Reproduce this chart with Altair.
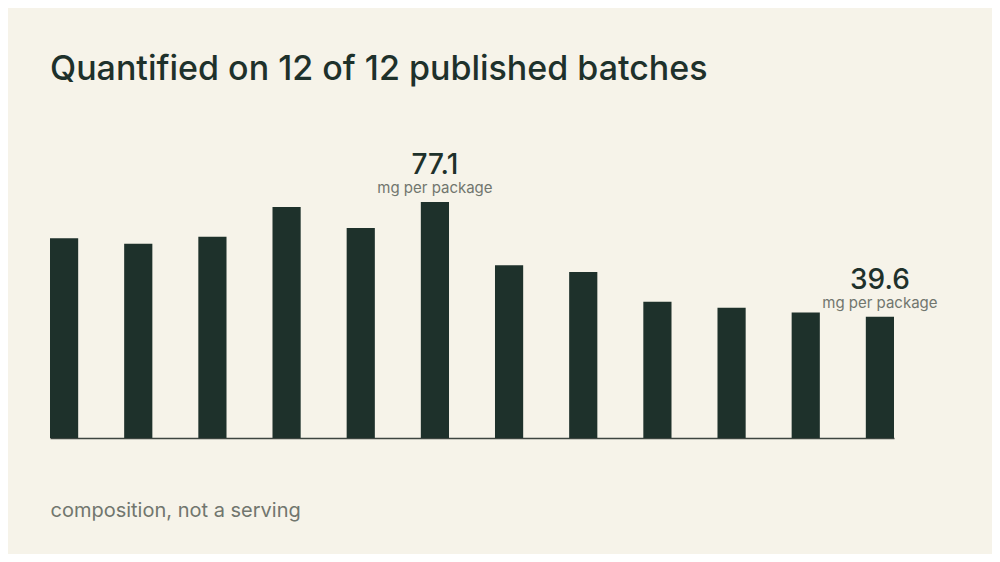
import altair as alt
import pandas as pd

# bar values (mg per package)
batches = [f"Batch {i}" for i in range(1, 13)]
mg_per_package = [65.2, 63.4, 65.7, 75.4, 68.6, 77.1, 56.4, 54.2, 44.5, 42.5, 41.0, 39.6]
callout_batches = ["Batch 6", "Batch 12"]
callout_unit = "mg per package"

BG = "#f6f3e9"
INK = "#1e312b"
GREY = "#71766e"
FONT = "Inter"

df = pd.DataFrame({"batch": batches, "mg": mg_per_package})
df["label"] = df["mg"].map(lambda v: f"{v:.1f}")
df["unit"] = callout_unit
callouts = df[df["batch"].isin(callout_batches)]

x = alt.X(
    "batch:N",
    sort=batches,
    scale=alt.Scale(paddingInner=0.62, paddingOuter=0),
    axis=alt.Axis(
        title="composition, not a serving",
        labels=False,
        ticks=False,
        domainColor="#3d4540",
        domainWidth=1.5,
        titleAnchor="start",
        titleAlign="left",
        titleFont=FONT,
        titleFontSize=20,
        titleFontWeight=400,
        titleColor=GREY,
        titlePadding=62,
    ),
)
y = alt.Y("mg:Q", scale=alt.Scale(domain=[0, 80], nice=False), axis=None)

bars = alt.Chart(df).mark_bar(color=INK).encode(x=x, y=y)

value_text = alt.Chart(callouts).mark_text(
    font=FONT, fontSize=28, fontWeight=500, color=INK,
    baseline="alphabetic", dy=-28,
).encode(x=x, y=y, text="label:N")

unit_text = alt.Chart(callouts).mark_text(
    font=FONT, fontSize=15, color=GREY,
    baseline="alphabetic", dy=-9,
).encode(x=x, y=y, text="unit:N")

chart = alt.layer(bars, value_text, unit_text).properties(
    width=844,
    height=245,
    background=BG,
    padding={"left": 42, "top": 185, "right": 98, "bottom": 116},
    autosize=alt.AutoSizeParams(type="none"),
    title=alt.TitleParams(
        "Quantified on 12 of 12 published batches",
        anchor="start",
        font=FONT,
        fontSize=34,
        fontWeight=500,
        color=INK,
        baseline="alphabetic",
        offset=38,
    ),
).configure_view(stroke=None)

chart.save("out.html", embed_options={"renderer": "svg", "actions": False})
